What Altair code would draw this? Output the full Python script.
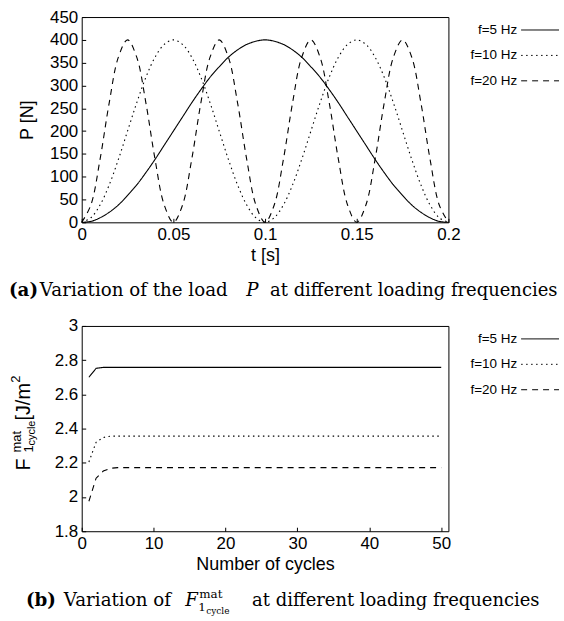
import altair as alt
import pandas as pd

SANS = "Liberation Sans"
SERIF = "DejaVu Serif"

series = ["f=5 Hz", "f=10 Hz", "f=20 Hz"]
dashes = [[1, 0], [1.5, 3.5], [6, 5]]

# ---- panel (a): load P vs time ----
time_s = [0, 0.005, 0.01, 0.015, 0.02, 0.025, 0.03, 0.035, 0.04, 0.045,
          0.05, 0.055, 0.06, 0.065, 0.07, 0.075, 0.08, 0.085, 0.09, 0.095,
          0.1, 0.105, 0.11, 0.115, 0.12, 0.125, 0.13, 0.135, 0.14, 0.145,
          0.15, 0.155, 0.16, 0.165, 0.17, 0.175, 0.18, 0.185, 0.19, 0.195, 0.2]
load_f5 = [0, 2, 10, 22, 38, 59, 82, 109, 138, 169, 200, 231, 262, 291, 318, 341,
           362, 378, 390, 397, 400, 397, 390, 378, 362, 341, 318, 291, 262, 231,
           200, 169, 138, 109, 82, 59, 38, 22, 10, 2, 0]
load_f10 = [0, 10, 38, 82, 138, 200, 262, 318, 362, 390, 400, 390, 362, 318, 262,
            200, 138, 82, 38, 10, 0, 10, 38, 82, 138, 200, 262, 318, 362, 390, 400,
            390, 362, 318, 262, 200, 138, 82, 38, 10, 0]
load_f20 = [0, 38, 138, 262, 362, 400, 362, 262, 138, 38,
            0, 38, 138, 262, 362, 400, 362, 262, 138, 38,
            0, 38, 138, 262, 362, 400, 362, 262, 138, 38,
            0, 38, 138, 262, 362, 400, 362, 262, 138, 38, 0]
x_ticks_a = [0, 0.05, 0.1, 0.15, 0.2]
y_ticks_a = [0, 50, 100, 150, 200, 250, 300, 350, 400, 450]

# ---- panel (b): F_1cycle vs number of cycles ----
cyc_f5 = [1, 2, 3, 50]
energy_f5 = [2.70, 2.752, 2.758, 2.758]
cyc_f10 = [1, 2, 3, 4, 50]
energy_f10 = [2.205, 2.32, 2.348, 2.356, 2.356]
cyc_f20 = [1, 2, 3, 4, 5, 50]
energy_f20 = [1.975, 2.11, 2.152, 2.168, 2.172, 2.172]
x_ticks_b = [0, 10, 20, 30, 40, 50]
y_ticks_b = [1.8, 2, 2.2, 2.4, 2.6, 2.8, 3]

W, H = 368, 206

df_a = pd.DataFrame({
    "t": time_s * 3,
    "P": load_f5 + load_f10 + load_f20,
    "series": [series[0]] * len(time_s) + [series[1]] * len(time_s) + [series[2]] * len(time_s),
})
df_b = pd.DataFrame({
    "n": cyc_f5 + cyc_f10 + cyc_f20,
    "F": energy_f5 + energy_f10 + energy_f20,
    "series": [series[0]] * len(cyc_f5) + [series[1]] * len(cyc_f10) + [series[2]] * len(cyc_f20),
})
one = pd.DataFrame({"k": [0]})


def dash_enc():
    return alt.StrokeDash(
        "series:N",
        scale=alt.Scale(domain=series, range=dashes),
        legend=None,
    )


def main_axis(title, values, fmt="~r", orient="bottom", tpad=3, lpad=5):
    kw = dict(values=values, format=fmt, ticks=False, domain=False, grid=False,
              labelPadding=lpad, orient=orient, labelFlush=False, labelOverlap=False,
              labelFont=SANS, labelFontSize=17, labelColor="black")
    if title is not None:
        kw.update(title=title, titleFont=SANS, titleFontSize=18, titleFontWeight="normal",
                  titleColor="black", titlePadding=tpad)
    else:
        kw.update(title=None)
    return alt.Axis(**kw)


def tick_axis(values, orient):
    return alt.Axis(values=values, title=None, labels=False, domain=False, grid=False,
                    ticks=True, tickSize=4, offset=-4, tickColor="black", tickWidth=1,
                    orient=orient)


def txt(text, x, y, size, weight="normal", style="normal", font=SERIF, angle=0,
        align="left", baseline="alphabetic"):
    return alt.Chart(one).mark_text(
        align=align, baseline=baseline, font=font, fontSize=size,
        fontWeight=weight, fontStyle=style, angle=angle, color="black",
    ).encode(x=alt.value(x), y=alt.value(y), text=alt.value(text))


def legend_layers():
    out = []
    for i, (name, d) in enumerate(zip(series, dashes)):
        yy = 13 + i * 25.5
        out.append(txt(name, 437, yy, 13.5, font=SANS, align="right", baseline="middle"))
        out.append(alt.Chart(one).mark_rule(stroke="black", strokeWidth=1, strokeDash=d).encode(
            x=alt.value(441), x2=alt.value(479), y=alt.value(yy)))
    return out


# panel (a)
xs_a = alt.Scale(domain=[0, 0.2], nice=False, zero=False)
ys_a = alt.Scale(domain=[0, 450], nice=False, zero=False)
lines_a = alt.Chart(df_a).mark_line(stroke="black", strokeWidth=1.1, interpolate="catmull-rom").encode(
    x=alt.X("t:Q", scale=xs_a, axis=main_axis("t [s]", x_ticks_a, tpad=4, lpad=4)),
    y=alt.Y("P:Q", scale=ys_a, axis=main_axis("P [N]", y_ticks_a, orient="left", tpad=13, lpad=4)),
    strokeDash=dash_enc(),
)
ticks_a = alt.Chart(df_a).mark_point(opacity=0).encode(
    x=alt.X("t:Q", scale=xs_a, axis=tick_axis(x_ticks_a, "bottom")),
    y=alt.Y("P:Q", scale=ys_a, axis=tick_axis(y_ticks_a, "left")),
)
anchor = alt.Chart(one).mark_rect(opacity=0).encode(
    x=alt.value(-81), x2=alt.value(483), y=alt.value(-15), y2=alt.value(606)
)
cap_a = [
    txt("(a)", -73, 280, 18.3, weight="bold"),
    txt("Variation of the load", -42, 280, 18.3),
    txt("P", 165, 280, 18.3, style="italic"),
    txt("at different loading frequencies", 189, 280, 18),
]
panel_a = alt.layer(anchor, lines_a, ticks_a, *legend_layers(), *cap_a).resolve_axis(
    x="independent", y="independent"
).properties(width=W, height=H)

# panel (b)
xs_b = alt.Scale(domain=[0, 51], nice=False, zero=False)
ys_b = alt.Scale(domain=[1.8, 3], nice=False, zero=False)
lines_b = alt.Chart(df_b).mark_line(stroke="black", strokeWidth=1.1).encode(
    x=alt.X("n:Q", scale=xs_b, axis=main_axis("Number of cycles", x_ticks_b, tpad=4, lpad=4)),
    y=alt.Y("F:Q", scale=ys_b, axis=main_axis(None, y_ticks_b, orient="left", lpad=4)),
    strokeDash=dash_enc(),
)
ticks_b = alt.Chart(df_b).mark_point(opacity=0).encode(
    x=alt.X("n:Q", scale=xs_b, axis=tick_axis(x_ticks_b, "bottom")),
    y=alt.Y("F:Q", scale=ys_b, axis=tick_axis(y_ticks_b, "left")),
)
ytitle_b = [
    txt("F", -52, 145, 20, font=SANS, angle=270),
    txt("mat", -61, 127, 13, font=SANS, angle=270),
    txt("1", -49, 127, 13, font=SANS, angle=270),
    txt("cycle", -47, 120, 11, font=SANS, angle=270),
    txt("[J/m", -52, 95, 20, font=SANS, angle=270),
    txt("2", -62, 57, 13, font=SANS, angle=270),
]
cap_b = [
    txt("(b)", -56, 281, 18.3, weight="bold"),
    txt("Variation of", -18, 281, 18.3),
    txt("F", 104, 281, 18.3, style="italic"),
    txt("mat", 118, 273, 12),
    txt("1", 117, 286, 12),
    txt("cycle", 125, 289, 9),
    txt("at different loading frequencies", 171, 281, 18),
]
panel_b = alt.layer(lines_b, ticks_b, *legend_layers(), *ytitle_b, *cap_b).resolve_axis(
    x="independent", y="independent"
).properties(width=W, height=H)

chart = alt.vconcat(panel_a, panel_b, spacing=104, bounds="flush").resolve_scale(
    strokeDash="independent"
).properties(padding=0).configure_view(stroke="black", strokeWidth=1)

chart.save("out.html", embed_options={"renderer": "svg", "actions": False})
